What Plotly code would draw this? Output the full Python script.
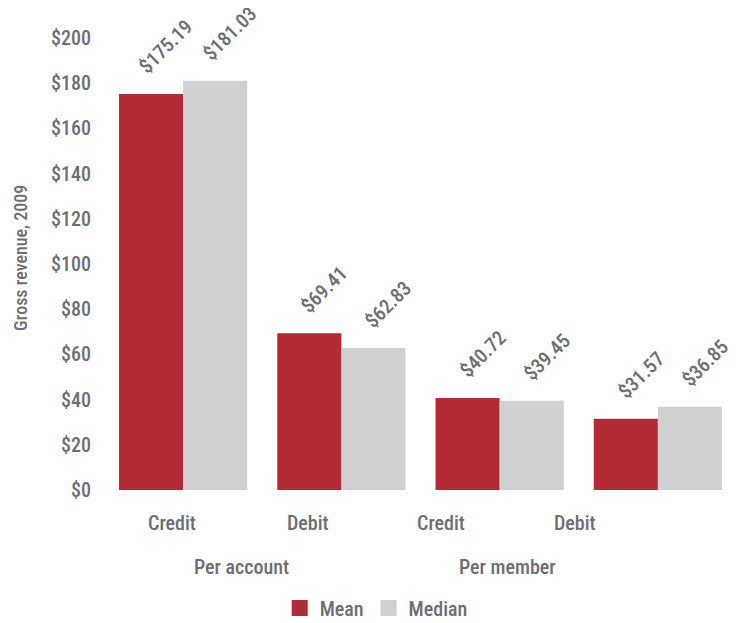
import plotly.graph_objects as go

# data
categories = ["Credit ", "Debit ", "Credit", "Debit"]
cat_labels = ["Credit", "Debit", "Credit", "Debit"]
groups = ["Per account", "Per member"]
mean_vals = [175.19, 69.41, 40.72, 31.57]
median_vals = [181.03, 62.83, 39.45, 36.85]
y_ticks = [0, 20, 40, 60, 80, 100, 120, 140, 160, 180, 200]

RED = "#b22a33"
GREY = "#d0d0d2"
TXT = "#6d6e71"
FONT = "Roboto Condensed, Liberation Sans Narrow, Arial Narrow, sans-serif"
W = 500

fig = go.Figure()
for name, vals, col, shift in [("Mean", mean_vals, RED, -32), ("Median", median_vals, GREY, 32)]:
    fig.add_trace(go.Bar(
        x=categories, y=vals, name=name, showlegend=False,
        marker=dict(color=col, line_width=0),
    ))
    # legend entry with a bigger square swatch
    fig.add_trace(go.Scatter(
        x=[categories[0]], y=[None], mode="markers", name=name,
        marker=dict(symbol="square", size=16, color=col),
    ))
    # rotated value labels, a bit right of and above each bar
    for c, v in zip(categories, vals):
        fig.add_annotation(
            text=f"${v:.2f}", x=c, y=v, xref="x", yref="y",
            xshift=shift + 15, yshift=13, textangle=-45,
            xanchor="center", yanchor="bottom", showarrow=False,
            font=dict(size=20, color=TXT, family=FONT, weight=W),
        )

def label(text, x, y, size=20, angle=0):
    fig.add_annotation(text=text, x=x, y=y, xref="paper", yref="paper",
                       xanchor="center", yanchor="middle", textangle=angle,
                       showarrow=False, font=dict(size=size, color=TXT, family=FONT, weight=W))

# category labels (offset left, like the original)
for lab, xx in zip(cat_labels, [0.108, 0.323, 0.533, 0.744]):
    label(lab, xx, -0.073)
for lab, xx in zip(groups, [0.218, 0.638]):
    label(lab, xx, -0.170)
label("Gross revenue, 2009", -0.133, 0.513, size=18, angle=-90)

# page body has an 8px margin, so margins are shifted by that
fig.update_layout(
    width=739, height=623,
    margin=dict(l=96, r=10, t=30, b=141, autoexpand=False),
    plot_bgcolor="white", paper_bgcolor="white",
    barmode="group", bargap=0.19, bargroupgap=0,
    font=dict(family=FONT, color=TXT, size=20, weight=W),
    showlegend=True,
    legend=dict(orientation="h", x=0.43, xanchor="center", y=-0.261, yanchor="middle",
                font=dict(size=20, color=TXT, family=FONT, weight=W), itemwidth=30,
                itemsizing="trace"),
    xaxis=dict(showticklabels=False, showgrid=False, zeroline=False, showline=False,
               automargin=False),
    yaxis=dict(
        range=[0, 200], tickvals=y_ticks, ticktext=[f"${v}" for v in y_ticks],
        showgrid=False, zeroline=False, showline=False, automargin=False,
        ticks="outside", ticklen=8, tickcolor="white",
        tickfont=dict(size=20, color=TXT, family=FONT, weight=W),
    ),
)

fig.write_html("out.html")
